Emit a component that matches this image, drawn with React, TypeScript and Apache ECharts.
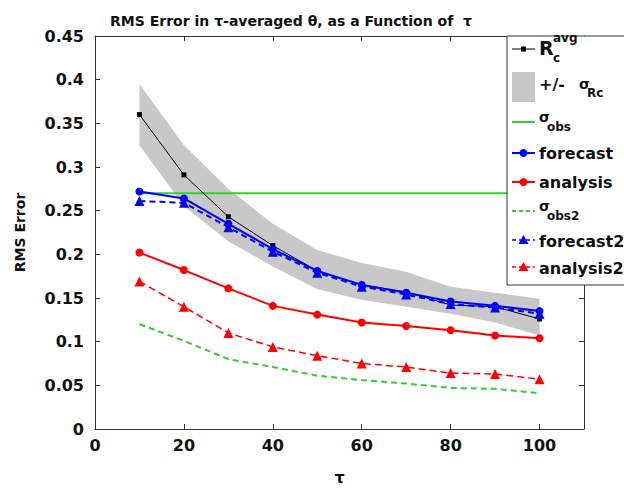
import React, { useEffect, useRef } from "react";
import * as echarts from "echarts";

const tauValues = [10, 20, 30, 40, 50, 60, 70, 80, 90, 100];
const rcAvg = [0.36, 0.291, 0.243, 0.21, 0.181, 0.165, 0.157, 0.142, 0.14, 0.126];
const bandUpper = [0.395, 0.325, 0.275, 0.235, 0.205, 0.19, 0.18, 0.163, 0.156, 0.149];
const bandLower = [0.325, 0.255, 0.215, 0.186, 0.16, 0.148, 0.14, 0.132, 0.122, 0.107];
const forecast = [0.272, 0.264, 0.235, 0.206, 0.181, 0.165, 0.156, 0.146, 0.141, 0.135];
const forecast2 = [0.261, 0.259, 0.231, 0.203, 0.179, 0.163, 0.154, 0.143, 0.139, 0.132];
const analysis = [0.202, 0.182, 0.161, 0.141, 0.131, 0.122, 0.118, 0.113, 0.107, 0.104];
const analysis2 = [0.169, 0.14, 0.11, 0.094, 0.084, 0.075, 0.071, 0.064, 0.063, 0.057];
const sigmaObs2 = [0.12, 0.101, 0.08, 0.071, 0.061, 0.056, 0.052, 0.047, 0.046, 0.041];
const sigmaObsX = [10, 110];
const sigmaObsY = [0.27, 0.27];
const xTicks = [0, 20, 40, 60, 80, 100];

const FONT = "DejaVu Sans";
const BLUE = "#0000ff";
const RED = "#ff0000";
const GREEN = "#33cc33";
const BAND = "#c8c8c8";

const pairs = (ys: number[]) => tauValues.map((t, i) => [t, ys[i]]);

export default function App() {
  const ref = useRef<HTMLDivElement>(null);
  useEffect(() => {
    if (!ref.current) return;
    const chart = echarts.init(ref.current, undefined, { renderer: "svg" });
    const axisCommon = {
      axisLine: { show: true, onZero: false, lineStyle: { color: "#333", width: 1 } },
      axisTick: { show: true, inside: true, length: 5, lineStyle: { color: "#333" } },
      splitLine: { show: false },
    };
    const lx0 = 512;
    const lx1 = 535;
    const tx = 539;
    const legendText = (text: string, x: number, y: number, size: number) => ({
      type: "text",
      x,
      y,
      z: 101,
      style: {
        text,
        font: `bold ${size}px "${FONT}"`,
        fill: "#111",
        textVerticalAlign: "middle",
        verticalAlign: "middle",
      },
    });
    const legendLine = (y: number, color: string, width: number, dash?: number[]) => ({
      type: "line",
      z: 101,
      shape: { x1: lx0, y1: y, x2: lx1, y2: y },
      style: { stroke: color, lineWidth: width, lineDash: dash || null },
    });
    const tri = (cx: number, cy: number, color: string) => ({
      type: "polygon",
      z: 102,
      shape: { points: [[cx, cy - 5], [cx - 5, cy + 4], [cx + 5, cy + 4]] },
      style: { fill: color },
    });
    const dot = (cx: number, cy: number, color: string) => ({
      type: "circle",
      z: 102,
      shape: { cx, cy, r: 4 },
      style: { fill: color },
    });
    const cx = (lx0 + lx1) / 2;
    const option = {
      animation: false,
      backgroundColor: "#ffffff",
      title: {
        text: "RMS Error in τ-averaged θ, as a Function of  τ",
        left: 286,
        top: 9,
        textAlign: "center",
        textStyle: { fontFamily: FONT, fontWeight: "bold", fontSize: 14, color: "#111" },
      },
      grid: { left: 95, right: 40, top: 36, bottom: 44, containLabel: false },
      xAxis: [
        {
          type: "value",
          min: 0,
          max: 110,
          interval: 20,
          name: "τ",
          nameLocation: "middle",
          nameGap: 40,
          nameTextStyle: { fontFamily: FONT, fontWeight: "bold", fontSize: 16, color: "#111" },
          ...axisCommon,
          axisLabel: {
            margin: 8,
            fontFamily: FONT,
            fontWeight: "bold",
            fontSize: 16,
            color: "#111",
            formatter: (v: number) => (xTicks.indexOf(v) >= 0 ? String(v) : ""),
          },
        },
        {
          type: "value",
          position: "top",
          min: 0,
          max: 110,
          interval: 20,
          ...axisCommon,
          axisLabel: { show: false },
        },
      ],
      yAxis: [
        {
          type: "value",
          min: 0,
          max: 0.45,
          interval: 0.05,
          name: "RMS Error",
          nameLocation: "middle",
          nameGap: 68,
          nameTextStyle: { fontFamily: FONT, fontWeight: "bold", fontSize: 14, color: "#111" },
          ...axisCommon,
          axisLabel: {
            margin: 11,
            fontFamily: FONT,
            fontWeight: "bold",
            fontSize: 16,
            color: "#111",
            formatter: (v: number) => String(Math.round(v * 100) / 100),
          },
        },
        {
          type: "value",
          position: "right",
          min: 0,
          max: 0.45,
          interval: 0.05,
          ...axisCommon,
          axisLabel: { show: false },
        },
      ],
      series: [
        {
          type: "custom",
          z: 1,
          data: tauValues.map((t, i) => [t, bandLower[i], bandUpper[i]]),
          encode: { x: 0, y: [1, 2] },
          renderItem: (params: any, api: any) => {
            if (params.dataIndex !== 0) return null;
            const pts: number[][] = [];
            for (let i = 0; i < tauValues.length; i++) pts.push(api.coord([tauValues[i], bandUpper[i]]));
            for (let i = tauValues.length - 1; i >= 0; i--) pts.push(api.coord([tauValues[i], bandLower[i]]));
            return { type: "polygon", shape: { points: pts }, style: { fill: BAND } };
          },
        },
        {
          name: "sigma_obs",
          type: "line",
          z: 3,
          data: sigmaObsX.map((x, i) => [x, sigmaObsY[i]]),
          showSymbol: false,
          symbol: "none",
          lineStyle: { color: GREEN, width: 2 },
        },
        {
          name: "sigma_obs2",
          type: "line",
          z: 3,
          data: pairs(sigmaObs2),
          symbol: "none",
          lineStyle: { color: GREEN, width: 2, type: [6, 4] },
        },
        {
          name: "analysis2",
          type: "line",
          z: 4,
          data: pairs(analysis2),
          symbol: "triangle",
          symbolSize: 10,
          itemStyle: { color: RED },
          lineStyle: { color: RED, width: 1.5, type: [7, 4] },
        },
        {
          name: "analysis",
          type: "line",
          z: 4,
          data: pairs(analysis),
          symbol: "circle",
          symbolSize: 8,
          itemStyle: { color: RED },
          lineStyle: { color: RED, width: 2 },
        },
        {
          name: "R_c avg",
          type: "line",
          z: 5,
          data: pairs(rcAvg),
          symbol: "rect",
          symbolSize: 5,
          itemStyle: { color: "#000" },
          lineStyle: { color: "#000", width: 1 },
        },
        {
          name: "forecast2",
          type: "line",
          z: 6,
          data: pairs(forecast2),
          symbol: "triangle",
          symbolSize: 10,
          itemStyle: { color: BLUE },
          lineStyle: { color: BLUE, width: 2, type: [6, 4] },
        },
        {
          name: "forecast",
          type: "line",
          z: 6,
          data: pairs(forecast),
          symbol: "circle",
          symbolSize: 8,
          itemStyle: { color: BLUE },
          lineStyle: { color: BLUE, width: 2 },
        },
      ],
      graphic: [
        {
          type: "rect",
          z: 100,
          shape: { x: 507, y: 36, width: 130, height: 249 },
          style: { fill: "#fff", stroke: "#333", lineWidth: 1 },
        },
        // R_c avg
        legendLine(49, "#000", 1),
        { type: "rect", z: 102, shape: { x: cx - 2.5, y: 46.5, width: 5, height: 5 }, style: { fill: "#000" } },
        legendText("R", tx, 48, 19),
        legendText("avg", tx + 14, 38, 12),
        legendText("c", tx + 14, 58, 12),
        // band
        { type: "rect", z: 101, shape: { x: lx0, y: 72, width: lx1 - lx0, height: 30 }, style: { fill: BAND } },
        legendText("+/- ", tx, 84, 16),
        legendText("σ", tx + 40, 84, 14),
        legendText("Rc", tx + 48, 93, 12),
        // sigma_obs
        legendLine(122, GREEN, 2),
        legendText("σ", tx, 117, 14),
        legendText("obs", tx + 8, 127, 12),
        // forecast
        legendLine(153, BLUE, 2),
        dot(cx, 153, BLUE),
        legendText("forecast", tx, 153, 16),
        // analysis
        legendLine(182, RED, 2),
        dot(cx, 182, RED),
        legendText("analysis", tx, 182, 16),
        // sigma_obs2
        legendLine(211, GREEN, 2, [4, 3]),
        legendText("σ", tx, 206, 14),
        legendText("obs2", tx + 8, 216, 12),
        // forecast2
        legendLine(240, BLUE, 1.5, [4, 3]),
        tri(cx, 240, BLUE),
        legendText("forecast2", tx, 241, 16),
        // analysis2
        legendLine(267, RED, 1.5, [4, 3]),
        tri(cx, 267, RED),
        legendText("analysis2", tx, 268, 16),
      ],
    };
    chart.setOption(option as any);
    return () => chart.dispose();
  }, []);
  return (
    <div
      ref={ref}
      style={{ position: "fixed", left: 0, top: 0, width: 624, height: 490, background: "#fff" }}
    />
  );
}
